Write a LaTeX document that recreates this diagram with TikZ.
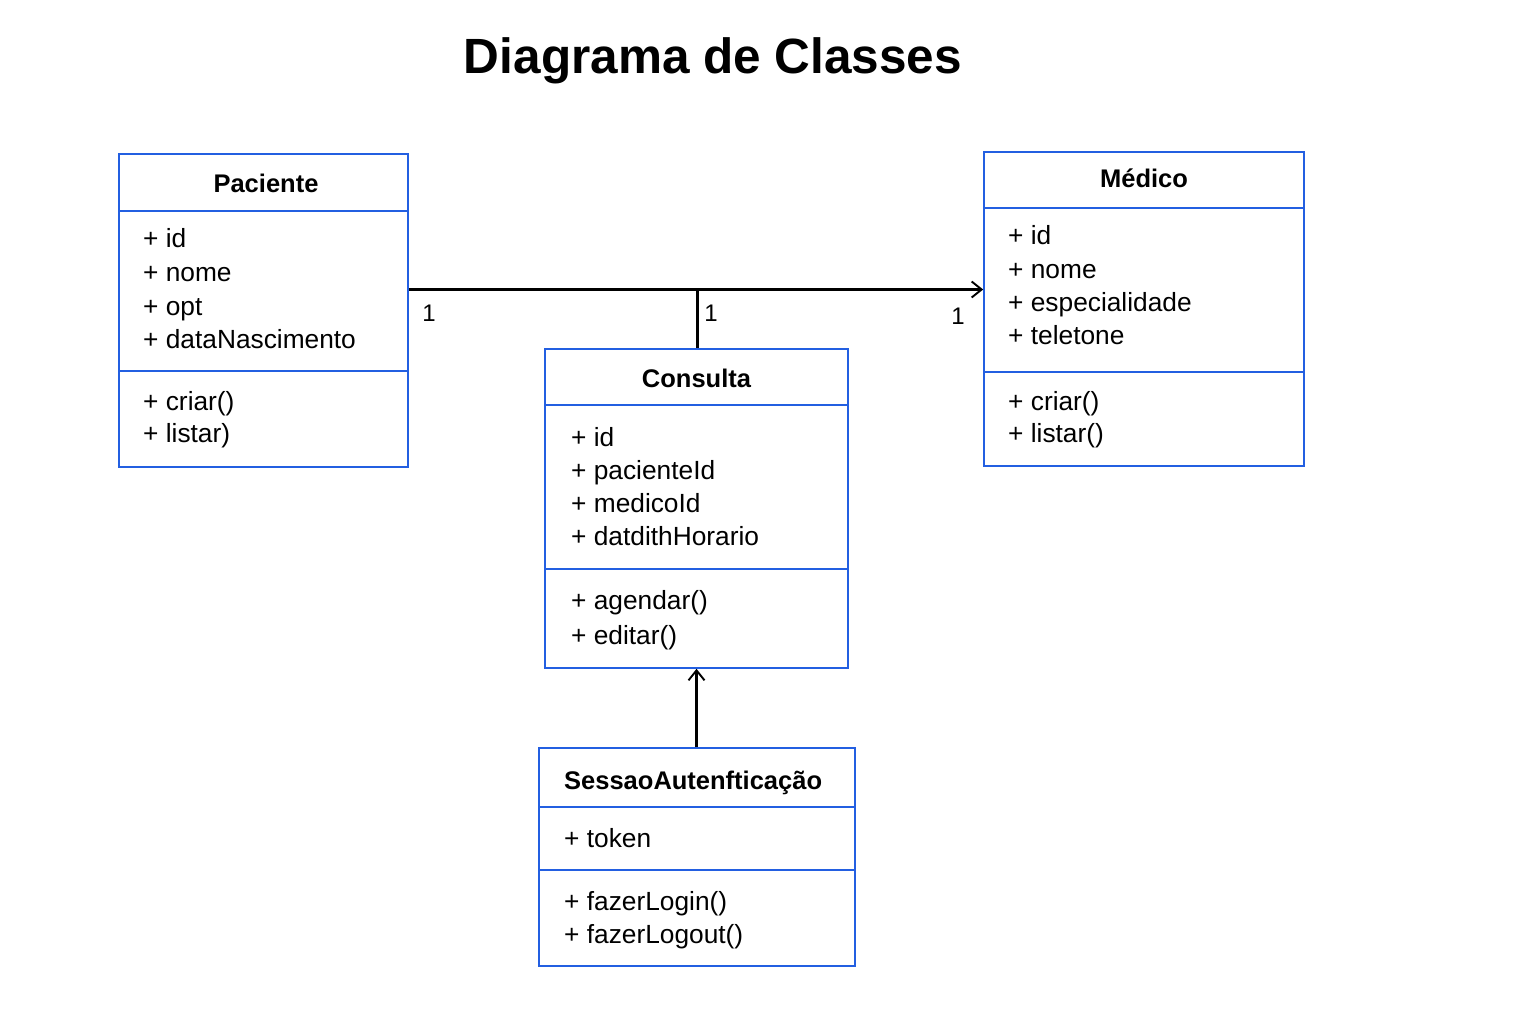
\documentclass[tikz,border=0pt]{standalone}
\usepackage{fontspec}
\setmainfont{Liberation Sans}
\usetikzlibrary{arrows.meta}
\definecolor{boxblue}{RGB}{35,95,225}
\tikzset{
  classbox/.style={draw=boxblue, line width=1.6pt, fill=none, inner sep=0pt},
  divider/.style={draw=boxblue, line width=1.6pt},
  ctitle/.style={anchor=base, inner sep=0pt, font=\fontsize{25.5}{30}\selectfont\bfseries},
  member/.style={anchor=base west, inner sep=0pt, font=\fontsize{26.3}{30}\selectfont},
  mult/.style={anchor=base, inner sep=0pt, font=\fontsize{24}{28}\selectfont},
  conn/.style={draw=black, line width=2.2pt},
  opentip/.style={-{Straight Barb[length=10pt,width=16pt,line width=1.9pt]}}
}
\begin{document}
\begin{tikzpicture}[x=1pt,y=-1pt]
\useasboundingbox[fill=white] (0,0) rectangle (1536,1024);

% title
\node[anchor=base, inner sep=0pt, font=\fontsize{49.5}{56}\selectfont\bfseries] (title) at (713,74) {Diagrama de Classes};

% Paciente
\node[classbox, minimum width=289, minimum height=313] (pac) at (263.5,310.5) {};
\draw[divider] (119,211) -- (408,211);
\draw[divider] (119,371) -- (408,371);
\node[ctitle] (pact) at (266,193) {Paciente};
\node[member] (pac1) at (143,248) {+ id};
\node[member] (pac2) at (143,282) {+ nome};
\node[member] (pac3) at (143,315) {+ opt};
\node[member] (pac4) at (143,348) {+ dataNascimento};
\node[member] (pac5) at (143,410) {+ criar()};
\node[member] (pac6) at (143,442) {+ listar)};

% Medico
\node[classbox, minimum width=320, minimum height=314] (med) at (1144,309) {};
\draw[divider] (984,208) -- (1304,208);
\draw[divider] (984,372) -- (1304,372);
\node[ctitle] (medt) at (1144,188) {Médico};
\node[member] (med1) at (1008,245) {+ id};
\node[member] (med2) at (1008,279) {+ nome};
\node[member] (med3) at (1008,312) {+ especialidade};
\node[member] (med4) at (1008,344) {+ teletone};
\node[member] (med5) at (1008,410) {+ criar()};
\node[member] (med6) at (1008,442) {+ listar()};

% Consulta
\node[classbox, minimum width=303, minimum height=319] (con) at (696.5,508.5) {};
\draw[divider] (545,405) -- (848,405);
\draw[divider] (545,569) -- (848,569);
\node[ctitle] (cont) at (696.5,387) {Consulta};
\node[member] (con1) at (571,446) {+ id};
\node[member] (con2) at (571,479) {+ pacienteId};
\node[member] (con3) at (571,512) {+ medicoId};
\node[member] (con4) at (571,545) {+ datdithHorario};
\node[member] (con5) at (571,609) {+ agendar()};
\node[member] (con6) at (571,644) {+ editar()};

% SessaoAutenticacao
\node[classbox, minimum width=316, minimum height=218] (ses) at (697,857) {};
\draw[divider] (539,807) -- (855,807);
\draw[divider] (539,870) -- (855,870);
\node[ctitle, anchor=base west] (sest) at (564,789) {SessaoAutenfticação};
\node[member] (ses1) at (564,847) {+ token};
\node[member] (ses2) at (564,910) {+ fazerLogin()};
\node[member] (ses3) at (564,943) {+ fazerLogout()};

% connectors
\coordinate (j) at (697.5,289.5);
\draw[conn] (pac.east |- j) -- (j);
\draw[conn, opentip] (j) -- (med.west |- j);
\draw[conn] (j) -- (j |- con.north);
\draw[conn, opentip] (ses.north -| con.south) -- (con.south);

% multiplicities
\node[mult] (m1) at (429,321) {1};
\node[mult] (m2) at (711,321) {1};
\node[mult] (m3) at (958,324) {1};
\end{tikzpicture}
\end{document}
